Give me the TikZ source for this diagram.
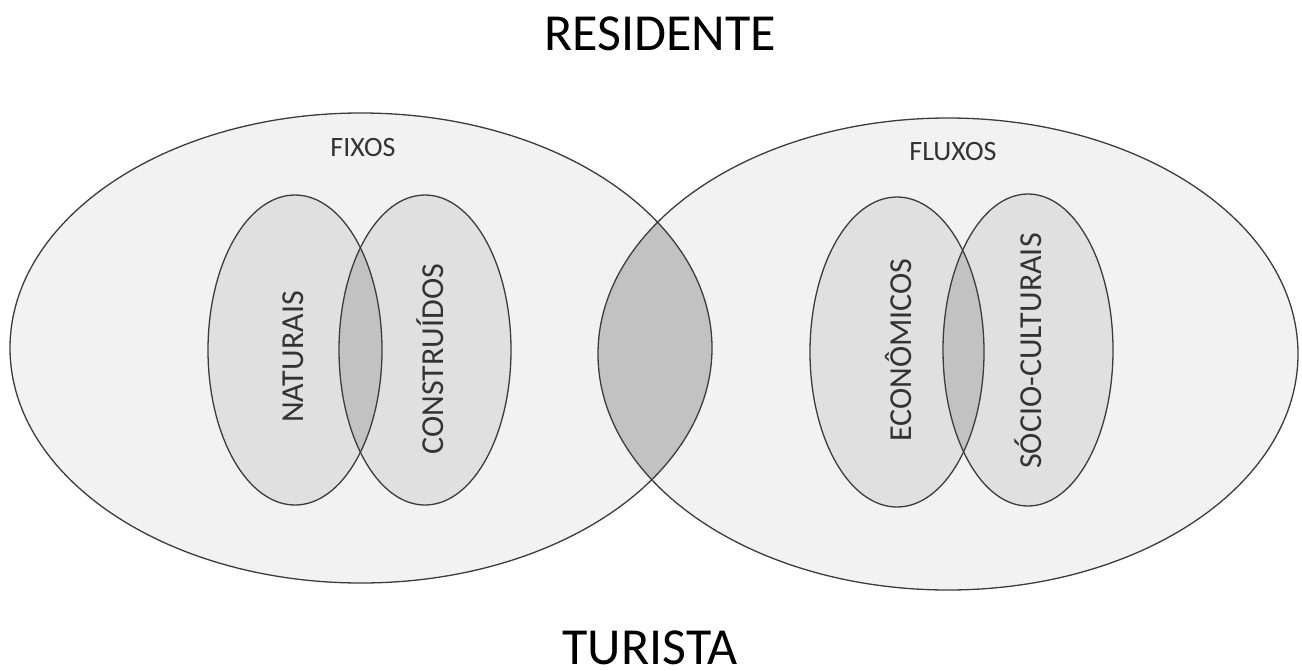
\documentclass[tikz,border=0pt]{standalone}
\usepackage{fontspec}
\setmainfont{Carlito}
\definecolor{bigfill}{HTML}{F2F2F2}
\definecolor{smallfill}{HTML}{E0E0E0}
\definecolor{overlapfill}{HTML}{C2C2C2}
\definecolor{linecol}{HTML}{3C3C3C}
\definecolor{labelcol}{HTML}{333333}
\tikzset{
  outline/.style={draw=linecol, line width=1.3pt},
  title/.style={text=black, font=\fontsize{52}{56}\selectfont, inner sep=0pt, text depth=0pt},
  setlabel/.style={text=labelcol, font=\fontsize{28}{30}\selectfont, inner sep=0pt},
  sublabel/.style={text=labelcol, font=\fontsize{32}{34}\selectfont, inner sep=0pt, rotate=90}
}
\begin{document}
\begin{tikzpicture}[x=1pt,y=-1pt]
\useasboundingbox (0,0) rectangle (1302,670);
% centres
\coordinate (fixosC) at (361,348);
\coordinate (fluxosC) at (948,354);
\coordinate (natC) at (295,350);
\coordinate (conC) at (425,350);
\coordinate (ecoC) at (897,352);
\coordinate (socC) at (1028,350);
% big fills
\fill[bigfill] (fixosC) ellipse [x radius=351, y radius=235];
\fill[bigfill] (fluxosC) ellipse [x radius=350, y radius=236];
\begin{scope}
  \clip (fixosC) ellipse [x radius=351, y radius=235];
  \fill[overlapfill] (fluxosC) ellipse [x radius=350, y radius=236];
\end{scope}
% small fills
\fill[smallfill] (natC) ellipse [x radius=87, y radius=155];
\fill[smallfill] (conC) ellipse [x radius=86, y radius=155];
\fill[smallfill] (ecoC) ellipse [x radius=87, y radius=155];
\fill[smallfill] (socC) ellipse [x radius=85, y radius=156];
\begin{scope}
  \clip (natC) ellipse [x radius=87, y radius=155];
  \fill[overlapfill] (conC) ellipse [x radius=86, y radius=155];
\end{scope}
\begin{scope}
  \clip (ecoC) ellipse [x radius=87, y radius=155];
  \fill[overlapfill] (socC) ellipse [x radius=85, y radius=156];
\end{scope}
% outlines
\draw[outline] (fixosC) ellipse [x radius=351, y radius=235];
\draw[outline] (fluxosC) ellipse [x radius=350, y radius=236];
\draw[outline] (natC) ellipse [x radius=87, y radius=155];
\draw[outline] (conC) ellipse [x radius=86, y radius=155];
\draw[outline] (ecoC) ellipse [x radius=87, y radius=155];
\draw[outline] (socC) ellipse [x radius=85, y radius=156];
% labels
\node[title] (residente) at (660,34) {RESIDENTE};
\node[title, anchor=base] (turista) at (650,664) {TURISTA};
\node[setlabel] (fixos) at (363,148) {FIXOS};
\node[setlabel] (fluxos) at (953,152) {FLUXOS};
\node[sublabel] (naturais) at (293,357) {NATURAIS};
\node[sublabel] (construidos) at (430,359) {CONSTRUÍDOS};
\node[sublabel] (economicos) at (898,350) {ECONÔMICOS};
\node[sublabel] (socioculturais) at (1028,351) {SÓCIO-CULTURAIS};
\end{tikzpicture}
\end{document}
